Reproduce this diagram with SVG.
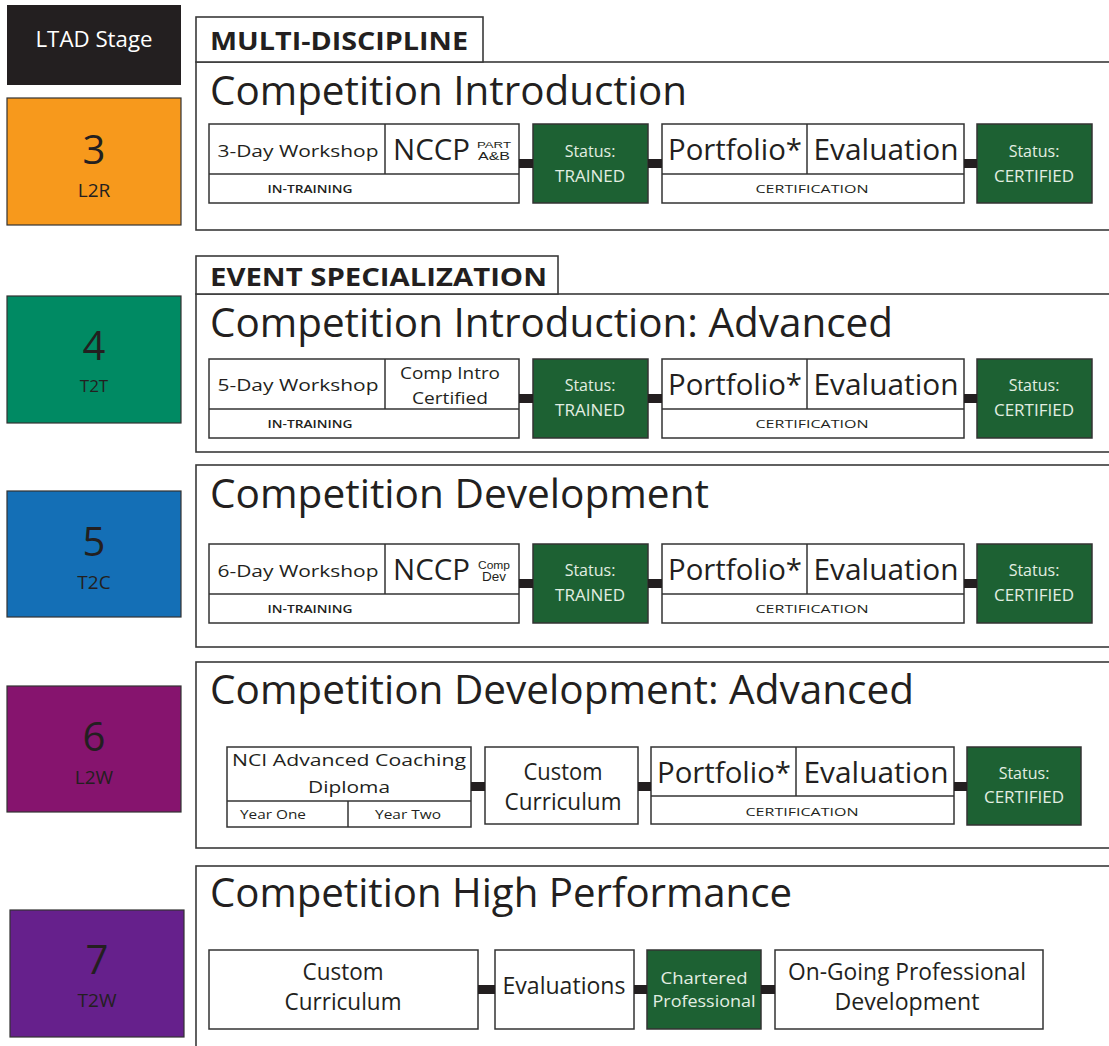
<svg xmlns="http://www.w3.org/2000/svg" width="1109" height="1046" viewBox="0 0 1109 1046">
<style>
text{font-family:"Open Sans","Noto Sans","Liberation Sans",sans-serif;fill:#231f20}
.panel{fill:#fff;stroke:#3a3a3a;stroke-width:1.6}
.box{fill:#fff;stroke:#333;stroke-width:1.5}
.line{stroke:#333;stroke-width:1.5}
.green{fill:#1d6133;stroke:#333;stroke-width:1.5}
.stage{stroke:#333;stroke-width:1.2}
.num{font-size:40px;text-anchor:middle}
.lvl{font-size:19px;text-anchor:middle}
.tab{font-size:25px;font-weight:bold}
.title{font-size:40px}
.m17{font-size:17px;text-anchor:middle}
.m23{font-size:23px;text-anchor:middle}
.big{font-size:29px;text-anchor:middle}
.sm{font-size:11px;text-anchor:middle;font-weight:600}
.wt{fill:#e2eee2;font-size:16px;text-anchor:middle}
.sup{font-size:9px;text-anchor:middle;font-family:"Liberation Sans Narrow","Liberation Sans",sans-serif}
.conn{fill:#231f20}
</style>

<g id="ltad-header">
<rect x="7" y="5" width="174" height="80" fill="#231f20"/>
<text x="94" y="47" style="fill:#fff;font-size:22px;text-anchor:middle" textLength="117" lengthAdjust="spacingAndGlyphs">LTAD Stage</text>
</g>

<g id="stage-3">
<rect class="stage" x="7" y="98" width="174" height="127" fill="#f7991c"/>
<text class="num" x="94" y="164">3</text>
<text class="lvl" x="94" y="197">L2R</text>
</g>
<g id="stage-4">
<rect class="stage" x="7" y="296" width="174" height="127" fill="#008a63"/>
<text class="num" x="94" y="360">4</text>
<text class="lvl" x="94" y="392" style="font-size:17px">T2T</text>
</g>
<g id="stage-5">
<rect class="stage" x="7" y="491" width="174" height="126" fill="#146fb6"/>
<text class="num" x="94" y="556">5</text>
<text class="lvl" x="94" y="589">T2C</text>
</g>
<g id="stage-6">
<rect class="stage" x="7" y="686" width="174" height="126" fill="#86146e"/>
<text class="num" x="94" y="751">6</text>
<text class="lvl" x="94" y="784">L2W</text>
</g>
<g id="stage-7">
<rect class="stage" x="10" y="910" width="174" height="127" fill="#66208c"/>
<text class="num" x="97" y="974">7</text>
<text class="lvl" x="97" y="1007">T2W</text>
</g>

<!-- Panel 1 -->
<g id="panel-1">
<rect class="panel" x="196" y="62" width="920" height="168"/>
<rect class="panel" x="196" y="17" width="287" height="45"/>
<text class="tab" x="210" y="50" textLength="258" lengthAdjust="spacingAndGlyphs">MULTI-DISCIPLINE</text>
<text class="title" x="210" y="105" textLength="477" lengthAdjust="spacingAndGlyphs">Competition Introduction</text>
</g>
<g id="p1-intraining">
<rect class="box" x="209" y="124" width="310" height="79"/>
<line class="line" x1="209" y1="174" x2="519" y2="174"/>
<line class="line" x1="385" y1="124" x2="385" y2="174"/>
<text class="m17" x="298" y="157" textLength="161" lengthAdjust="spacingAndGlyphs">3-Day Workshop</text>
<text x="393" y="160" style="font-size:30px" textLength="77" lengthAdjust="spacingAndGlyphs">NCCP</text>
<text class="sup" x="494" y="148" textLength="34" lengthAdjust="spacingAndGlyphs">PART</text>
<text class="sup" x="494" y="160" style="font-size:11px" textLength="32" lengthAdjust="spacingAndGlyphs">A&amp;B</text>
<text class="sm" x="310" y="193" textLength="85" lengthAdjust="spacingAndGlyphs">IN-TRAINING</text>
</g>
<g id="p1-trained">
<rect class="green" x="533" y="124" width="115" height="79"/>
<text class="wt" x="590" y="157">Status:</text>
<text class="wt" x="590" y="182" style="font-size:17px">TRAINED</text>
</g>
<g id="p1-certification">
<rect class="box" x="662" y="124" width="302" height="79"/>
<line class="line" x1="662" y1="174" x2="964" y2="174"/>
<line class="line" x1="807" y1="124" x2="807" y2="174"/>
<text class="big" x="735" y="160" textLength="134" lengthAdjust="spacingAndGlyphs">Portfolio*</text>
<text class="big" x="886" y="160" textLength="145" lengthAdjust="spacingAndGlyphs">Evaluation</text>
<text class="sm" x="812" y="193" style="font-weight:normal" textLength="113" lengthAdjust="spacingAndGlyphs">CERTIFICATION</text>
</g>
<g id="p1-certified">
<rect class="green" x="977" y="124" width="115" height="79"/>
<text class="wt" x="1034" y="157">Status:</text>
<text class="wt" x="1034" y="182" style="font-size:17px">CERTIFIED</text>
</g>

<!-- Panel 2 -->
<g id="panel-2">
<rect class="panel" x="196" y="294" width="920" height="158"/>
<rect class="panel" x="196" y="256" width="362" height="38"/>
<text class="tab" x="210" y="286" textLength="337" lengthAdjust="spacingAndGlyphs">EVENT SPECIALIZATION</text>
<text class="title" x="210" y="337" textLength="683" lengthAdjust="spacingAndGlyphs">Competition Introduction: Advanced</text>
</g>
<g id="p2-intraining">
<rect class="box" x="209" y="359" width="310" height="79"/>
<line class="line" x1="209" y1="409" x2="519" y2="409"/>
<line class="line" x1="385" y1="359" x2="385" y2="409"/>
<text class="m17" x="298" y="391" textLength="161" lengthAdjust="spacingAndGlyphs">5-Day Workshop</text>
<text class="m17" x="450" y="379" textLength="100" lengthAdjust="spacingAndGlyphs">Comp Intro</text>
<text class="m17" x="450" y="404" textLength="76" lengthAdjust="spacingAndGlyphs">Certified</text>
<text class="sm" x="310" y="428" textLength="85" lengthAdjust="spacingAndGlyphs">IN-TRAINING</text>
</g>
<g id="p2-trained">
<rect class="green" x="533" y="359" width="115" height="79"/>
<text class="wt" x="590" y="391">Status:</text>
<text class="wt" x="590" y="416" style="font-size:17px">TRAINED</text>
</g>
<g id="p2-certification">
<rect class="box" x="662" y="359" width="302" height="79"/>
<line class="line" x1="662" y1="409" x2="964" y2="409"/>
<line class="line" x1="807" y1="359" x2="807" y2="409"/>
<text class="big" x="735" y="395" textLength="134" lengthAdjust="spacingAndGlyphs">Portfolio*</text>
<text class="big" x="886" y="395" textLength="145" lengthAdjust="spacingAndGlyphs">Evaluation</text>
<text class="sm" x="812" y="428" style="font-weight:normal" textLength="113" lengthAdjust="spacingAndGlyphs">CERTIFICATION</text>
</g>
<g id="p2-certified">
<rect class="green" x="977" y="359" width="115" height="79"/>
<text class="wt" x="1034" y="391">Status:</text>
<text class="wt" x="1034" y="416" style="font-size:17px">CERTIFIED</text>
</g>

<!-- Panel 3 -->
<g id="panel-3">
<rect class="panel" x="196" y="465" width="920" height="182"/>
<text class="title" x="210" y="508" textLength="499" lengthAdjust="spacingAndGlyphs">Competition Development</text>
</g>
<g id="p3-intraining">
<rect class="box" x="209" y="544" width="310" height="79"/>
<line class="line" x1="209" y1="594" x2="519" y2="594"/>
<line class="line" x1="385" y1="544" x2="385" y2="594"/>
<text class="m17" x="298" y="577" textLength="161" lengthAdjust="spacingAndGlyphs">6-Day Workshop</text>
<text x="393" y="580" style="font-size:30px" textLength="77" lengthAdjust="spacingAndGlyphs">NCCP</text>
<text class="sup" x="494" y="569" style="font-size:10px" textLength="32" lengthAdjust="spacingAndGlyphs">Comp</text>
<text class="sup" x="494" y="581" style="font-size:12px" textLength="24" lengthAdjust="spacingAndGlyphs">Dev</text>
<text class="sm" x="310" y="613" textLength="85" lengthAdjust="spacingAndGlyphs">IN-TRAINING</text>
</g>
<g id="p3-trained">
<rect class="green" x="533" y="544" width="115" height="79"/>
<text class="wt" x="590" y="576">Status:</text>
<text class="wt" x="590" y="601" style="font-size:17px">TRAINED</text>
</g>
<g id="p3-certification">
<rect class="box" x="662" y="544" width="302" height="79"/>
<line class="line" x1="662" y1="594" x2="964" y2="594"/>
<line class="line" x1="807" y1="544" x2="807" y2="594"/>
<text class="big" x="735" y="580" textLength="134" lengthAdjust="spacingAndGlyphs">Portfolio*</text>
<text class="big" x="886" y="580" textLength="145" lengthAdjust="spacingAndGlyphs">Evaluation</text>
<text class="sm" x="812" y="613" style="font-weight:normal" textLength="113" lengthAdjust="spacingAndGlyphs">CERTIFICATION</text>
</g>
<g id="p3-certified">
<rect class="green" x="977" y="544" width="115" height="79"/>
<text class="wt" x="1034" y="576">Status:</text>
<text class="wt" x="1034" y="601" style="font-size:17px">CERTIFIED</text>
</g>

<!-- Panel 4 -->
<g id="panel-4">
<rect class="panel" x="196" y="662" width="920" height="186"/>
<text class="title" x="210" y="704" textLength="704" lengthAdjust="spacingAndGlyphs">Competition Development: Advanced</text>
</g>
<g id="p4-nci">
<rect class="box" x="227" y="747" width="244" height="80"/>
<line class="line" x1="227" y1="801" x2="471" y2="801"/>
<line class="line" x1="348" y1="801" x2="348" y2="827"/>
<text class="m17" x="349" y="766" textLength="234" lengthAdjust="spacingAndGlyphs">NCI Advanced Coaching</text>
<text class="m17" x="349" y="793" textLength="82" lengthAdjust="spacingAndGlyphs">Diploma</text>
<text class="sm" x="273" y="819" style="font-size:12px;font-weight:normal" textLength="66" lengthAdjust="spacingAndGlyphs">Year One</text>
<text class="sm" x="408" y="819" style="font-size:12px;font-weight:normal" textLength="66" lengthAdjust="spacingAndGlyphs">Year Two</text>
</g>
<g id="p4-custom">
<rect class="box" x="485" y="747" width="153" height="77"/>
<text class="m23" x="563" y="780" textLength="79" lengthAdjust="spacingAndGlyphs">Custom</text>
<text class="m23" x="563" y="810" textLength="117" lengthAdjust="spacingAndGlyphs">Curriculum</text>
</g>
<g id="p4-certification">
<rect class="box" x="651" y="747" width="303" height="77"/>
<line class="line" x1="651" y1="796" x2="954" y2="796"/>
<line class="line" x1="796" y1="747" x2="796" y2="796"/>
<text class="big" x="724" y="783" textLength="134" lengthAdjust="spacingAndGlyphs">Portfolio*</text>
<text class="big" x="876" y="783" textLength="145" lengthAdjust="spacingAndGlyphs">Evaluation</text>
<text class="sm" x="802" y="816" style="font-weight:normal" textLength="113" lengthAdjust="spacingAndGlyphs">CERTIFICATION</text>
</g>
<g id="p4-certified">
<rect class="green" x="967" y="747" width="114" height="78"/>
<text class="wt" x="1024" y="779">Status:</text>
<text class="wt" x="1024" y="803" style="font-size:17px">CERTIFIED</text>
</g>

<!-- Panel 5 -->
<g id="panel-5">
<rect class="panel" x="196" y="866" width="920" height="200"/>
<text class="title" x="210" y="907" textLength="582" lengthAdjust="spacingAndGlyphs">Competition High Performance</text>
</g>
<g id="p5-custom">
<rect class="box" x="209" y="950" width="269" height="79"/>
<text class="m23" x="343" y="980" textLength="81" lengthAdjust="spacingAndGlyphs">Custom</text>
<text class="m23" x="343" y="1010" textLength="117" lengthAdjust="spacingAndGlyphs">Curriculum</text>
</g>
<g id="p5-evaluations">
<rect class="box" x="495" y="950" width="139" height="79"/>
<text class="m23" x="564" y="994" textLength="123" lengthAdjust="spacingAndGlyphs">Evaluations</text>
</g>
<g id="p5-chartered">
<rect class="green" x="647" y="950" width="114" height="79"/>
<text class="wt" x="704" y="984" style="font-size:17px" textLength="87" lengthAdjust="spacingAndGlyphs">Chartered</text>
<text class="wt" x="704" y="1007" style="font-size:17px" textLength="103" lengthAdjust="spacingAndGlyphs">Professional</text>
</g>
<g id="p5-ongoing">
<rect class="box" x="775" y="950" width="268" height="79"/>
<text class="m23" x="907" y="980" textLength="238" lengthAdjust="spacingAndGlyphs">On-Going Professional</text>
<text class="m23" x="907" y="1010" textLength="145" lengthAdjust="spacingAndGlyphs">Development</text>
</g>

<g id="connectors">
<rect class="conn" x="519" y="159" width="14" height="9"/>
<rect class="conn" x="648" y="159" width="14" height="9"/>
<rect class="conn" x="964" y="159" width="13" height="9"/>
<rect class="conn" x="519" y="394" width="14" height="9"/>
<rect class="conn" x="648" y="394" width="14" height="9"/>
<rect class="conn" x="964" y="394" width="13" height="9"/>
<rect class="conn" x="519" y="579" width="14" height="9"/>
<rect class="conn" x="648" y="579" width="14" height="9"/>
<rect class="conn" x="964" y="579" width="13" height="9"/>
<rect class="conn" x="471" y="782" width="14" height="9"/>
<rect class="conn" x="638" y="782" width="13" height="9"/>
<rect class="conn" x="954" y="782" width="13" height="9"/>
<rect class="conn" x="478" y="985" width="17" height="9"/>
<rect class="conn" x="634" y="985" width="13" height="9"/>
<rect class="conn" x="761" y="985" width="14" height="9"/>
</g>
</svg>
